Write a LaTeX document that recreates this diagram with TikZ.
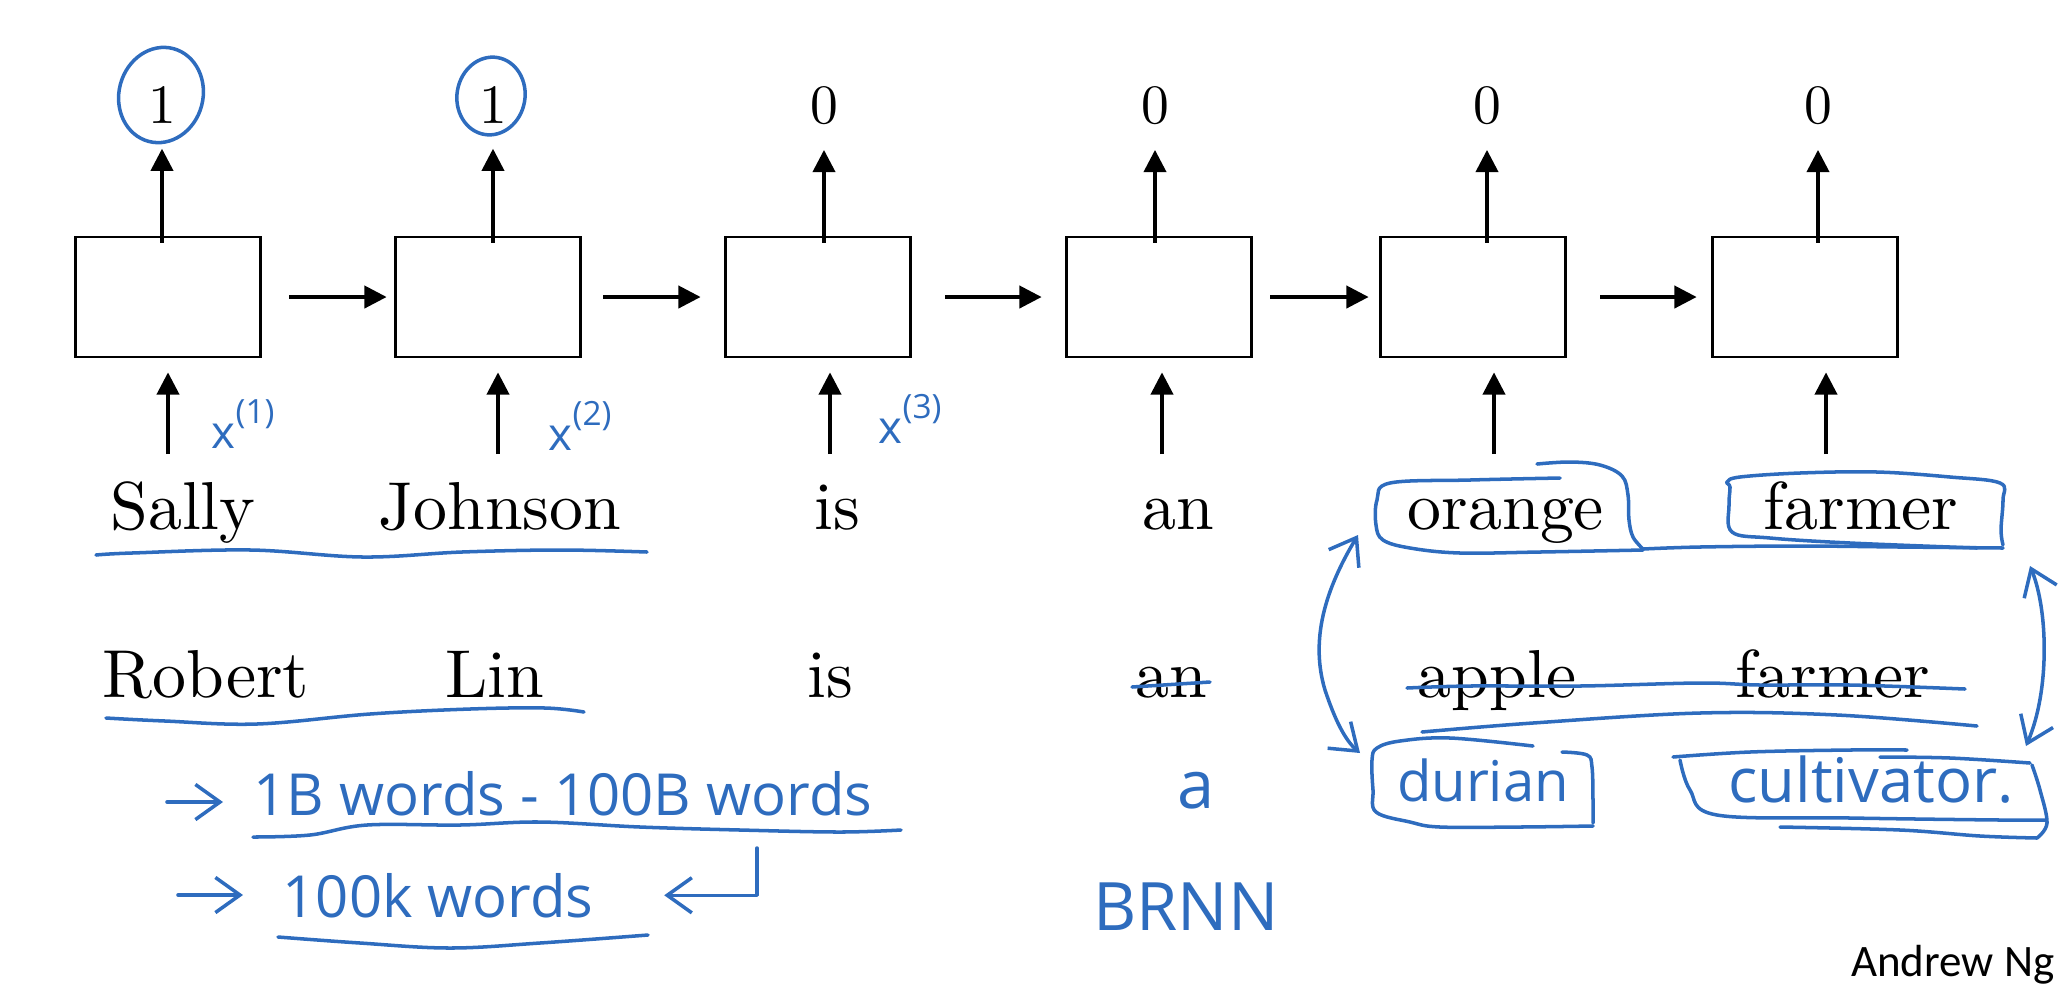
\documentclass[tikz,border=0pt]{standalone}
\usepackage{fontspec}
\usepackage{tikz}
\usetikzlibrary{arrows.meta}
\newfontfamily\handfont{Open Sans}
\newfontfamily\ngfont{Carlito}
\newfontfamily\wordfont{lmroman10-regular.otf}
\definecolor{inkblue}{RGB}{46,108,190}

\begin{document}
\begin{tikzpicture}[x=0.1mm, y=-0.1mm,
cell/.style={draw, line width=0.8pt, minimum width=18.5mm, minimum height=12mm, inner sep=0pt},
outnum/.style={font=\wordfont\fontsize{15.8}{19}\selectfont, inner sep=0pt, anchor=base},
word/.style={font=\wordfont\fontsize{19.3}{23}\selectfont, inner sep=0pt, anchor=base},
arr/.style={line width=1pt, -{Triangle[length=6.3pt, width=6.3pt]}},
ink/.style={inkblue, line width=1pt, line cap=round, line join=round},
inkarr/.style={ink, -{Straight Barb[length=7pt, width=10pt]}},
inkboth/.style={ink, {Straight Barb[length=7pt, width=10pt]}-{Straight Barb[length=7pt, width=10pt]}},
handtext/.style={text=inkblue, font=\handfont\fontsize{16.5}{19}\selectfont, inner sep=0pt, anchor=base west}]
\useasboundingbox (0,0) rectangle (2070,994);

% RNN cells
\foreach \n/\x in {1/168, 2/488, 3/818, 4/1159, 5/1473, 6/1805}
  \node[cell] (c\n) at (\x,297) {};

% outputs
\foreach \n/\x/\v in {1/162/1, 2/493/1, 3/824/0, 4/1155/0, 5/1487/0, 6/1818/0} {
  \node[outnum] (y\n) at (\x,123) {\v};
  \draw[arr, shorten <=-0.7mm, shorten >=2.5mm] (c\n.north -| y\n) -- (y\n.south);
}

% inputs
\foreach \n/\x in {1/168, 2/498, 3/830, 4/1162, 5/1494, 6/1826} {
  \coordinate (i\n) at (\x,454);
  \draw[arr, shorten >=1.4mm] (i\n) -- (i\n |- c\n.south);
}

% recurrence
\foreach \a/\b/\s/\t in {1/2/2.75/0.75, 2/3/2.15/2.35, 3/4/3.35/2.35, 4/5/1.75/1.05, 5/6/3.35/1.45}
  \draw[arr, shorten <=\s mm, shorten >=\t mm] (c\a) -- (c\b);

% sentences
\node[word] (s1) at (183,529) {Sally};
\node[word] (s2) at (500,529) {Johnson};
\node[word] (s3) at (837,529) {is};
\node[word] (s4) at (1178,529) {an};
\node[word] (s5) at (1506,529) {orange};
\node[word] (s6) at (1861,529) {farmer};

\node[word] (r1) at (206,697) {Robert};
\node[word] (r2) at (495,697) {Lin};
\node[word] (r3) at (830,697) {is};
\node[word] (r4) at (1171,697) {an};
\node[word] (r5) at (1497,697) {apple};
\node[word] (r6) at (1833,697) {farmer};

% handwritten notes
\draw[ink] (161,95) ellipse[x radius=42, y radius=48, rotate=-15];
\draw[ink] (491,96) ellipse[x radius=34, y radius=39, rotate=-10];

\node[handtext, font=\handfont\fontsize{13}{15}\selectfont] (x1) at (211,448) {x\raisebox{7pt}{\fontsize{9.5}{11}\selectfont(1)}};
\node[handtext, font=\handfont\fontsize{13}{15}\selectfont] (x2) at (548,450) {x\raisebox{7pt}{\fontsize{9.5}{11}\selectfont(2)}};
\node[handtext, font=\handfont\fontsize{13}{15}\selectfont] (x3) at (878,443) {x\raisebox{7pt}{\fontsize{9.5}{11}\selectfont(3)}};

\draw[ink] plot[smooth, tension=0.6] coordinates {(96,555) (132,553) (251,550) (363,557) (462,552) (561,550) (647,552)};
\draw[ink] plot[smooth, tension=0.6] coordinates {(106,718) (165,721) (257,724) (370,714) (470,709) (545,708) (584,712)};

\node[handtext] (t1) at (253,815) {1B words - 100B words};
\node[handtext] (t2) at (282,917) {100k words};
\coordinate (a1) at (167,802);
\coordinate (a2) at (178,895);
\coordinate (a3) at (757,848);
\draw[inkarr, shorten >=3mm] (a1) -- (a1 -| t1.west);
\draw[inkarr, shorten >=3.9mm] (a2) -- (a2 -| t2.west);
\draw[inkarr, shorten >=7mm] (a3) |- (t2.east);
\draw[ink] plot[smooth, tension=0.6] coordinates {(253,837) (310,835) (367,825) (460,825) (540,822) (640,827) (740,830) (840,832) (901,830)};
\draw[ink] plot[smooth, tension=0.6] coordinates {(278,937) (360,943) (450,948) (540,943) (648,935)};

% strike-throughs
\draw[ink] (1132,687) -- (1210,682);
\draw[ink] plot[smooth, tension=0.6] coordinates {(1407,688) (1470,686) (1580,686) (1700,683) (1760,685) (1850,685) (1965,689)};
\draw[ink] plot[smooth, tension=0.6] coordinates {(1422,732) (1533,723) (1700,713) (1837,715) (1977,726)};

% boxes round orange / farmer
\draw[ink] plot[smooth, tension=0.6] coordinates {(1560,478) (1470,480) (1390,483) (1377,500) (1376,525) (1383,540) (1410,548) (1460,553) (1540,552) (1643,550)};
\draw[ink] plot[smooth, tension=0.6] coordinates {(1537,464) (1570,462) (1600,465) (1622,476) (1628,495) (1629,520) (1633,537) (1643,549)};
\draw[ink] plot[smooth, tension=0.6] coordinates {(1643,549) (1700,547) (1800,546) (1900,547) (2003,548)};
\draw[ink] plot[smooth, tension=0.6] coordinates {(1977,548) (1850,543) (1770,538) (1732,532) (1729,505) (1730,487) (1727,482) (1740,477) (1800,473) (1877,472) (1950,477) (2000,483) (2003,500) (2001,530) (2003,545)};

% replacements
\node[handtext, anchor=base, font=\handfont\fontsize{19}{22}\selectfont] (na) at (1196,808) {a};
\node[handtext, anchor=base, font=\handfont\fontsize{19}{22}\selectfont] (brnn) at (1186,930) {BRNN};
\node[handtext, anchor=base, font=\handfont\fontsize{16}{19}\selectfont] (d1) at (1483,801) {durian};
\node[handtext, anchor=base, font=\handfont\fontsize{17.5}{20}\selectfont] (d2) at (1871,802) {cultivator.};

\draw[ink] plot[smooth, tension=0.6] coordinates {(1533,746) (1450,738) (1400,741) (1377,748) (1372,760) (1373,790) (1376,812) (1410,822) (1440,827) (1520,827) (1593,826)};
\draw[ink] plot[smooth, tension=0.6] coordinates {(1562,752) (1587,755) (1592,767) (1593,800) (1593,823)};
\draw[ink] plot[smooth, tension=0.6] coordinates {(1673,757) (1750,752) (1850,750) (1907,750)};
\draw[ink] plot[smooth, tension=0.6] coordinates {(1880,757) (1950,758) (2030,763)};
\draw[ink] plot[smooth, tension=0.6] coordinates {(1680,760) (1690,790) (1717,815) (1850,818) (2000,820) (2045,820)};
\draw[ink] plot[smooth, tension=0.6] coordinates {(2032,765) (2040,790) (2047,823) (2037,838)};
\draw[ink] plot[smooth, tension=0.6] coordinates {(1780,827) (1900,830) (1980,836) (2037,838)};

% swap arrows
\draw[inkboth] (1358,535) .. controls (1325,590) and (1310,640) .. (1325,690) .. controls (1335,720) and (1345,740) .. (1360,753);
\draw[inkboth] (2030,566) .. controls (2048,610) and (2050,690) .. (2026,746);

\node[anchor=base east, inner sep=0pt, font=\ngfont\fontsize{12.8}{15}\selectfont] (ng) at (2055,976) {Andrew Ng};
\end{tikzpicture}
\end{document}
